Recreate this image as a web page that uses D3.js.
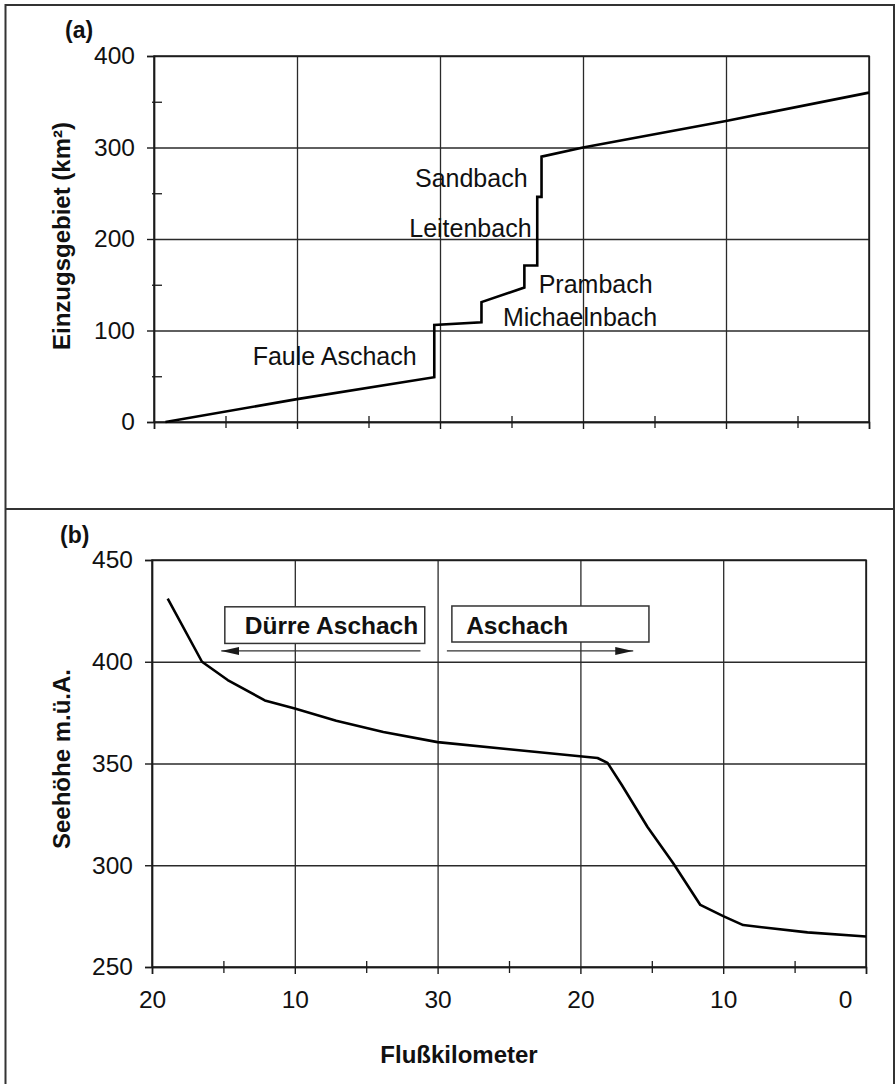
<!DOCTYPE html>
<html>
<head>
<meta charset="utf-8">
<script src="https://cdn.jsdelivr.net/npm/d3@7"></script>
<style>
  html, body { margin: 0; padding: 0; background: #fff; }
  svg { display: block; }
  text { font-family: "Liberation Sans", Arial, sans-serif; fill: #111; }
</style>
</head>
<body>
<svg id="chart" width="895" height="1084"></svg>
<script>
// Running distance along the river course (km): 0–20 Dürre Aschach, 20–50 Aschach
const kmTicks = [0, 10, 20, 30, 40, 50];
const kmMinorTicks = [5, 15, 25, 35, 45];
const kmTickLabels = ["20", "10", "30", "20", "10", "0"];

// (a) catchment area along the river
const areaDist = [0.8, 10, 19.6, 19.6, 22.9, 22.9, 25.9, 25.9, 26.8, 26.8, 27.1, 27.1, 30, 40, 50];
const areaValue = [0, 25, 49, 106, 109, 131, 147, 171, 171, 246, 246, 290, 300, 329, 360];
const areaTicks = [0, 100, 200, 300, 400];
const areaMinorTicks = [50, 150, 250, 350];

// tributary names, anchored at (km, km²)
const tributaryNames = ["Sandbach", "Leitenbach", "Prambach", "Michaelnbach", "Faule Aschach"];
const tributaryKm = [18.25, 17.85, 26.9, 24.4, 6.9];
const tributaryArea = [257, 202, 141, 105, 62];

// (b) elevation profile
const elevDist = [1.1, 3.5, 5.3, 7.9, 10, 12.9, 16.2, 20, 25, 31.2, 31.9, 32.9, 34.7, 36.5, 38.4, 40, 41.4, 45.9, 50];
const elevValue = [431, 400, 391, 381, 377, 371, 365.5, 360.5, 357, 352.7, 350.3, 339.4, 318.8, 301, 280.5, 275, 270.6, 267, 265];
const elevTicks = [250, 300, 350, 400, 450];

// river-section labels with their direction arrows (km range, m a.s.l.)
const sectionNames = ["Dürre Aschach", "Aschach"];
const sectionBoxKm = [[5.1, 19.1], [21.0, 34.8]];
const sectionBoxElev = [[427, 409], [427.4, 409.7]];
const sectionTextKm = [6.5, 22.0];
const sectionTextElev = 413.8;
const sectionArrowKm = [[18.8, 4.85], [20.65, 33.7]];
const sectionArrowElev = 405.3;

const svg = d3.select("#chart");
const ink = "#1a1a1a";

// outer frame and panel divider
svg.append("rect").attr("x", 5.5).attr("y", 5).attr("width", 888.5).attr("height", 1095)
  .attr("fill", "none").attr("stroke", "#333").attr("stroke-width", 2);
svg.append("line").attr("x1", 5).attr("x2", 894).attr("y1", 509).attr("y2", 509)
  .attr("stroke", "#333").attr("stroke-width", 2);

const defs = svg.append("defs");
defs.append("marker").attr("id", "arrowhead")
  .attr("viewBox", "0 0 18 8").attr("refX", 18).attr("refY", 4)
  .attr("markerWidth", 18).attr("markerHeight", 8).attr("markerUnits", "userSpaceOnUse")
  .attr("orient", "auto")
  .append("path").attr("d", "M0,0 L18,4 L0,8 Z").attr("fill", ink);

function panel(cfg) {
  const { x, y, yTicks, yMinor, showXLabels } = cfg;
  const g = svg.append("g");
  const [x0, x1] = x.range();
  const [y0, y1] = y.range();

  // grid
  g.append("g").attr("transform", `translate(0,${y0})`)
    .call(d3.axisBottom(x).tickValues(kmTicks).tickSize(-(y0 - y1)).tickFormat(""))
    .call(s => s.select(".domain").remove())
    .selectAll("line").attr("stroke", "#2a2a2a").attr("stroke-width", 1.3);
  g.append("g").attr("transform", `translate(${x0},0)`)
    .call(d3.axisRight(y).tickValues(yTicks).tickSize(x1 - x0).tickFormat(""))
    .call(s => s.select(".domain").remove())
    .selectAll("line").attr("stroke", "#2a2a2a").attr("stroke-width", 1.3);

  // plot border
  g.append("rect").attr("x", x0).attr("y", y1).attr("width", x1 - x0).attr("height", y0 - y1)
    .attr("fill", "none").attr("stroke", ink).attr("stroke-width", 1.5);

  // y axis
  const ya = g.append("g").attr("transform", `translate(${x0},0)`)
    .call(d3.axisLeft(y).tickValues(yTicks).tickSize(7).tickPadding(12).tickFormat(d3.format("d")));
  ya.select(".domain").attr("stroke", ink).attr("stroke-width", 1.5);
  ya.selectAll("line").attr("stroke", ink).attr("stroke-width", 1.4);
  ya.selectAll("text").attr("font-size", 24.5).attr("fill", "#111")
    .attr("font-family", "'Liberation Sans', Arial, sans-serif");
  if (yMinor.length) {
    g.append("g").attr("transform", `translate(${x0 - 2},0)`)
      .call(d3.axisRight(y).tickValues(yMinor).tickSize(10).tickFormat(""))
      .call(s => s.select(".domain").remove())
      .selectAll("line").attr("stroke", ink).attr("stroke-width", 1.3);
  }

  // x axis
  const xa = g.append("g").attr("transform", `translate(0,${y0})`)
    .call(d3.axisBottom(x).tickValues(kmTicks).tickSize(7).tickPadding(17)
      .tickFormat((d, i) => showXLabels ? kmTickLabels[i] : ""));
  xa.select(".domain").attr("stroke", ink).attr("stroke-width", 1.5);
  xa.selectAll("line").attr("stroke", ink).attr("stroke-width", 1.4);
  xa.selectAll("text").attr("font-size", 24.5).attr("fill", "#111")
    .attr("font-family", "'Liberation Sans', Arial, sans-serif");
  // last label sits inside the end of the axis
  xa.selectAll(".tick").filter(d => d === 50).select("text").attr("dx", -21);
  g.append("g").attr("transform", `translate(0,${y0 - 6})`)
    .call(d3.axisBottom(x).tickValues(kmMinorTicks).tickSize(12).tickFormat(""))
    .call(s => s.select(".domain").remove())
    .selectAll("line").attr("stroke", ink).attr("stroke-width", 1.3);
  return g;
}

// ---------- (a) Einzugsgebiet ----------
const xA = d3.scaleLinear([0, 50], [154, 869]);
const yA = d3.scaleLinear([0, 400], [422, 56]);
const gA = panel({ x: xA, y: yA, yTicks: areaTicks, yMinor: areaMinorTicks, showXLabels: false });

gA.selectAll(".trib").data(tributaryNames).join("text")
  .attr("class", "trib")
  .attr("x", (d, i) => xA(tributaryKm[i]))
  .attr("y", (d, i) => yA(tributaryArea[i]))
  .attr("font-size", 25)
  .text(d => d);

gA.append("path")
  .datum(d3.zip(areaDist, areaValue))
  .attr("fill", "none").attr("stroke", "#000").attr("stroke-width", 2.6)
  .attr("stroke-linejoin", "miter")
  .attr("d", d3.line().x(d => xA(d[0])).y(d => yA(d[1])));

svg.append("text").attr("x", 65).attr("y", 38).attr("font-size", 23).attr("font-weight", "bold").text("(a)");
svg.append("text")
  .attr("transform", "translate(70,236) rotate(-90)")
  .attr("text-anchor", "middle").attr("font-size", 24).attr("font-weight", "bold")
  .text("Einzugsgebiet (km²)");

// ---------- (b) Seehöhe ----------
const xB = d3.scaleLinear([0, 50], [152, 866]);
const yB = d3.scaleLinear([250, 450], [967, 560]);
const gB = panel({ x: xB, y: yB, yTicks: elevTicks, yMinor: [], showXLabels: true });

sectionNames.forEach((name, i) => {
  const [k0, k1] = sectionBoxKm[i];
  const [e0, e1] = sectionBoxElev[i];
  gB.append("rect")
    .attr("x", xB(k0)).attr("y", yB(e0))
    .attr("width", xB(k1) - xB(k0)).attr("height", yB(e1) - yB(e0))
    .attr("fill", "#fff").attr("stroke", "#333").attr("stroke-width", 1.5);
  gB.append("text")
    .attr("x", xB(sectionTextKm[i])).attr("y", yB(sectionTextElev))
    .attr("font-size", 24.5).attr("font-weight", "bold").text(name);
  gB.append("line")
    .attr("x1", xB(sectionArrowKm[i][0])).attr("x2", xB(sectionArrowKm[i][1]))
    .attr("y1", yB(sectionArrowElev)).attr("y2", yB(sectionArrowElev))
    .attr("stroke", "#333").attr("stroke-width", 1.2)
    .attr("marker-end", "url(#arrowhead)");
});

gB.append("path")
  .datum(d3.zip(elevDist, elevValue))
  .attr("fill", "none").attr("stroke", "#000").attr("stroke-width", 2.6)
  .attr("stroke-linejoin", "round")
  .attr("d", d3.line().x(d => xB(d[0])).y(d => yB(d[1])));

svg.append("text").attr("x", 60).attr("y", 543).attr("font-size", 23).attr("font-weight", "bold").text("(b)");
svg.append("text")
  .attr("transform", "translate(70,759) rotate(-90)")
  .attr("text-anchor", "middle").attr("font-size", 24).attr("font-weight", "bold")
  .text("Seehöhe m.ü.A.");
svg.append("text")
  .attr("x", 459).attr("y", 1063)
  .attr("text-anchor", "middle").attr("font-size", 24).attr("font-weight", "bold")
  .text("Flußkilometer");
</script>
</body>
</html>
